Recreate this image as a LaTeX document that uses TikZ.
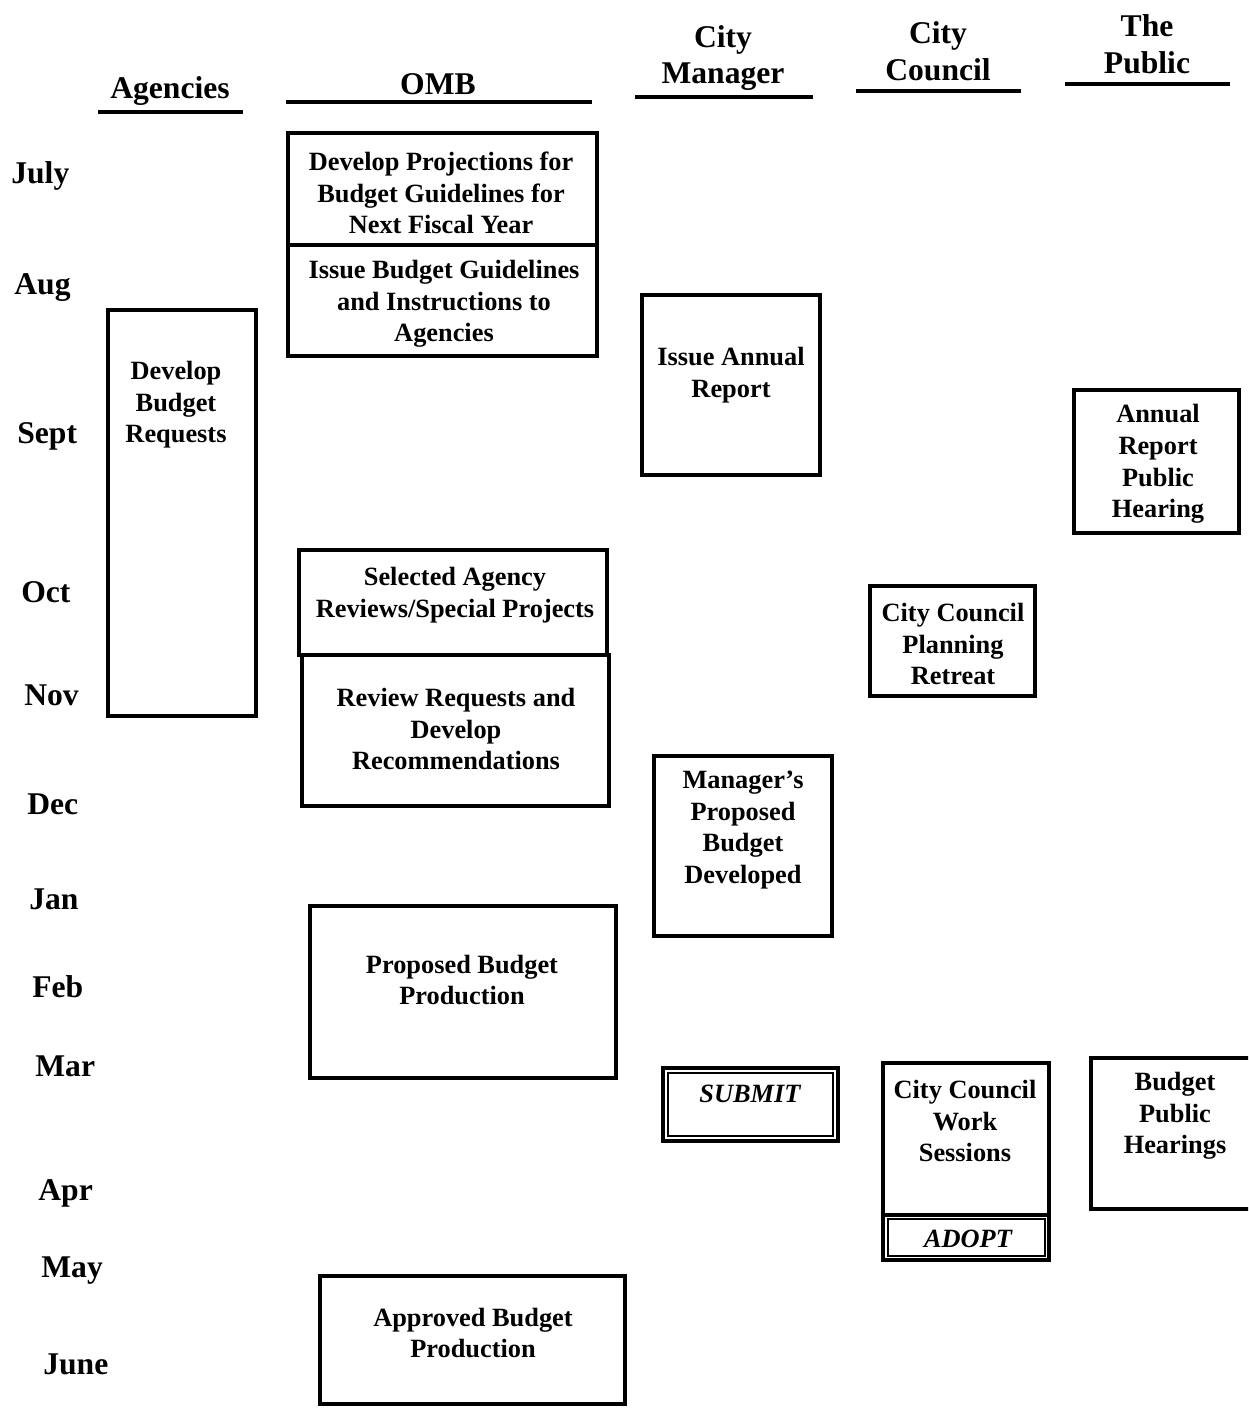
\documentclass[tikz,border=0pt]{standalone}
\usepackage{fontspec}
\setmainfont{Liberation Serif}
\usetikzlibrary{fit}
\begin{document}
\begin{tikzpicture}[x=0.02cm,y=-0.02cm,
  box/.style={draw, line width=1.8pt, inner sep=0pt},
  thin box/.style={draw, line width=1.2pt, inner sep=0pt},
  lbl/.style={font=\bfseries\fontsize{15}{18}\selectfont, align=center, inner sep=0pt},
  ilbl/.style={font=\bfseries\itshape\fontsize{15}{18}\selectfont, align=center, inner sep=0pt},
  hdr/.style={font=\bfseries\fontsize{18}{21}\selectfont, align=center, inner sep=0pt},
  month/.style={font=\bfseries\fontsize{18}{21}\selectfont, anchor=west, inner sep=0pt},
  rule/.style={line width=1.8pt}]
\useasboundingbox (0,0) rectangle (1248,1412);
\clip (0,0) rectangle (1248,1412);
\fill[white] (0,0) rectangle (1248,1412);

% headers
\node[hdr] (hAg) at (170,91) {Agencies};
\node[hdr] (hOMB) at (438,84) {OMB};
\node[hdr] (hCM) at (723,58) {City\\Manager};
\node[hdr] (hCC) at (938,51) {City\\Council};
\node[hdr] (hPub) at (1147,44) {The\\Public};
\draw[rule] (98,112) -- (243,112);
\draw[rule] (286,102) -- (592,102);
\draw[rule] (635,97) -- (813,97);
\draw[rule] (856,91) -- (1021,91);
\draw[rule] (1065,84) -- (1230,84);

% months
\node[month] (mJul) at (11,176) {July};
\node[month] (mAug) at (14,288) {Aug};
\node[month] (mSep) at (17,436) {Sept};
\node[month] (mOct) at (21,592) {Oct};
\node[month] (mNov) at (24,695) {Nov};
\node[month] (mDec) at (27,804) {Dec};
\node[month] (mJan) at (29,899) {Jan};
\node[month] (mFeb) at (32,987) {Feb};
\node[month] (mMar) at (35,1066) {Mar};
\node[month] (mApr) at (38,1193) {Apr};
\node[month] (mMay) at (41,1271) {May};
\node[month] (mJun) at (43,1364) {June};

% OMB
\node[box, fit={(288,133) (597,245)}] (ombA) {};
\node[lbl] (ombAt) at (441,193) {Develop Projections for\\Budget Guidelines for\\Next Fiscal Year};
\node[box, fit={(288,245) (597,356)}] (ombB) {};
\node[lbl] (ombBt) at (444,304) {Issue Budget Guidelines\\and Instructions to\\Agencies};

\node[box, fit={(299,550) (607,655)}] (ombC) {};
\node[lbl] (ombCt) at (455,595) {Selected Agency\\Reviews/Special Projects};
\node[box, fit={(302,655) (609,806)}] (ombD) {};
\node[lbl] (ombDt) at (456,729) {Review Requests and\\Develop\\Recommendations};

\node[box, fit={(310,906) (616,1078)}] (ombE) {};
\node[lbl] (ombEt) at (462,980) {Proposed Budget\\Production};

\node[box, fit={(320,1276) (625,1404)}] (ombF) {};
\node[lbl] (ombFt) at (473,1333) {Approved Budget\\Production};

% Agencies
\node[box, fit={(108,310) (256,716)}] (ag) {};
\node[lbl] (agt) at (176,405) {Develop\\Budget\\Requests};

% City Manager
\node[box, fit={(642,295) (820,475)}] (cmA) {};
\node[lbl] (cmAt) at (731,375) {Issue Annual\\Report};
\node[box, fit={(654,756) (832,936)}] (cmB) {};
\node[lbl] (cmBt) at (743,830) {Manager’s\\Proposed\\Budget\\Developed};
\node[box, fit={(663,1068) (838,1141)}] (sub) {};
\node[thin box, fit={(668,1073) (833,1136)}] (subIn) {};
\node[ilbl] (subt) at (750,1094) {SUBMIT};

% City Council
\node[box, fit={(870,586) (1035,696)}] (ccA) {};
\node[lbl] (ccAt) at (953,644) {City Council\\Planning\\Retreat};
\node[box, fit={(883,1063) (1049,1260)}] (ccB) {};
\node[lbl] (ccBt) at (965,1121) {City Council\\Work\\Sessions};
\draw[line width=1.8pt] (ccB.west |- 0,1215) -- (ccB.east |- 0,1215);
\node[thin box, fit={(888,1219) (1045,1256)}] (adopt) {};
\node[ilbl] (adoptt) at (968,1239) {ADOPT};

% Public
\node[box, fit={(1074,390) (1239,533)}] (pbA) {};
\node[lbl] (pbAt) at (1158,464) {Annual\\Report\\Public\\Hearing};
\node[box, fit={(1091,1058) (1262,1209)}] (pbB) {};
\node[lbl] (pbBt) at (1175,1116) {Budget\\Public\\Hearings};
\end{tikzpicture}
\end{document}
